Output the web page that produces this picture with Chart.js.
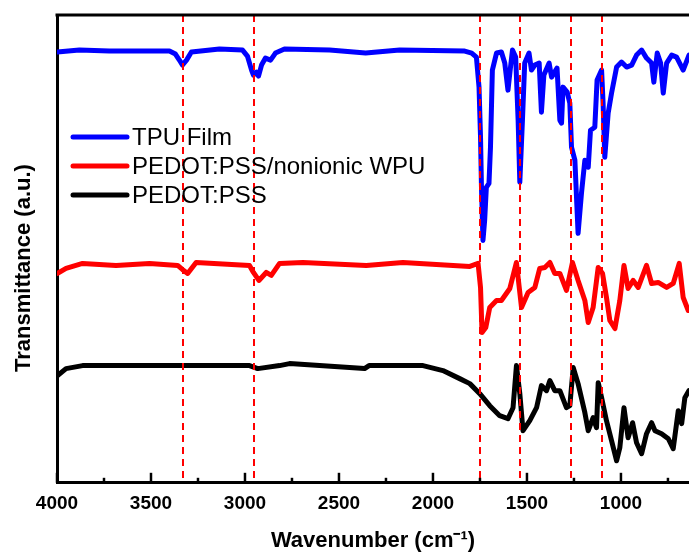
<!DOCTYPE html>
<html>
<head>
<meta charset="utf-8">
<script src="https://cdn.jsdelivr.net/npm/chart.js@4.4.1/dist/chart.umd.min.js"></script>
<style>
  html, body { margin: 0; padding: 0; background: #fff; overflow: hidden; }
  canvas { display: block; }
</style>
</head>
<body>
<canvas id="ftir-chart" width="689" height="554"></canvas>
<script>
// wavenumbers (cm-1) and transmittance (a.u., offset per curve)
const tpuX = [3998, 3881, 3722, 3562, 3402, 3370, 3349, 3333, 3311, 3285, 3136, 3013, 2987, 2965, 2955, 2939, 2928, 2912, 2891, 2864, 2838, 2790, 2550, 2358, 2177, 1831, 1794, 1769, 1755, 1747, 1742, 1734, 1725, 1716, 1702, 1694, 1684, 1662, 1636, 1618, 1601, 1591, 1577, 1560, 1547, 1538, 1524, 1512, 1489, 1476, 1458, 1435, 1423, 1410, 1382, 1369, 1340, 1325, 1316, 1308, 1286, 1272, 1263, 1245, 1228, 1210, 1192, 1174, 1162, 1139, 1127, 1103, 1095, 1086, 1068, 1050, 1023, 997, 970, 943, 917, 890, 864, 837, 825, 807, 789, 775, 757, 730, 704, 669, 638];
const tpuY = [430, 432, 431, 431, 431, 428, 422, 417, 422, 430, 433, 432, 426, 412, 407, 410, 406, 417, 424, 422, 429, 433, 432, 429, 432, 431, 429, 425, 395, 345, 295, 242, 262, 295, 299, 335, 412, 429, 430, 419, 392, 409, 432, 425, 362, 300, 362, 419, 429, 412, 417, 419, 370, 407, 419, 405, 414, 362, 359, 395, 390, 379, 335, 322, 249, 289, 322, 315, 352, 355, 402, 412, 379, 325, 369, 389, 415, 420, 415, 417, 427, 432, 424, 419, 400, 429, 419, 389, 419, 427, 425, 412, 427];

const wpuX = [3997, 3952, 3864, 3686, 3508, 3358, 3333, 3305, 3260, 2976, 2955, 2926, 2887, 2860, 2816, 2692, 2355, 2160, 1804, 1760, 1747, 1739, 1719, 1698, 1662, 1636, 1591, 1556, 1529, 1494, 1458, 1432, 1405, 1378, 1352, 1325, 1290, 1258, 1228, 1192, 1174, 1148, 1121, 1098, 1077, 1059, 1032, 1006, 984, 962, 935, 908, 864, 837, 802, 757, 722, 690, 669, 642];
const wpuY = [209, 214, 219, 217, 219, 217, 213, 209, 220, 217, 210, 202, 210, 207, 219, 220, 217, 220, 216, 219, 195, 150, 155, 175, 182, 182, 194, 220, 175, 190, 195, 214, 215, 220, 209, 209, 192, 220, 202, 182, 160, 175, 215, 209, 185, 162, 154, 182, 217, 194, 202, 195, 217, 199, 200, 195, 199, 219, 185, 172];

const pssX = [3997, 3952, 3864, 3686, 3331, 2976, 2932, 2816, 2763, 2364, 2340, 2053, 1947, 1858, 1804, 1751, 1698, 1645, 1601, 1574, 1556, 1538, 1521, 1485, 1449, 1423, 1396, 1378, 1352, 1325, 1290, 1272, 1254, 1228, 1192, 1174, 1148, 1130, 1121, 1103, 1077, 1050, 1023, 1006, 984, 962, 938, 917, 890, 864, 837, 819, 784, 748, 722, 695, 677, 660, 638];
const pssY = [107, 114, 117, 117, 117, 117, 114, 117, 119, 114, 117, 117, 112, 104, 99, 89, 77, 67, 64, 75, 117, 89, 52, 62, 75, 97, 92, 102, 92, 92, 75, 77, 115, 99, 70, 52, 65, 55, 100, 85, 62, 42, 22, 35, 75, 45, 60, 40, 29, 49, 60, 52, 49, 44, 34, 72, 59, 85, 92];

const seriesNames = ['TPU Film', 'PEDOT:PSS/nonionic WPU', 'PEDOT:PSS'];
const seriesColors = ['#0000ff', '#ff0000', '#000000'];
const peakLines = [3330, 2950, 1748, 1535, 1265, 1102];
const tickLabels = [4000, 3500, 3000, 2500, 2000, 1500, 1000];
const minorTicks = [3750, 3250, 2750, 2250, 1750, 1250, 750];

const FONT = '"Liberation Sans", Arial, sans-serif';

function toPoints(xs, ys) {
    return xs.map((x, i) => ({ x: x, y: ys[i] }));
}

// frame, inward ticks, dashed peak markers, legend and y title
const decorPlugin = {
    id: 'decor',
    afterDatasetsDraw(chart) {
        const ctx = chart.ctx;
        const area = chart.chartArea;
        const xs = chart.scales.x;
        ctx.save();

        ctx.strokeStyle = '#ff0000';
        ctx.lineWidth = 2;
        ctx.setLineDash([7, 5]);
        peakLines.forEach(v => {
            const px = Math.round(xs.getPixelForValue(v));
            ctx.beginPath();
            ctx.moveTo(px, area.top);
            ctx.lineTo(px, area.bottom);
            ctx.stroke();
        });
        ctx.setLineDash([]);

        ctx.strokeStyle = '#000';
        ctx.lineWidth = 3;
        ctx.beginPath();
        ctx.moveTo(area.left - 1.5, area.top);
        ctx.lineTo(chart.width, area.top);
        ctx.stroke();

        ctx.lineWidth = 2.5;
        tickLabels.forEach(v => {
            const px = xs.getPixelForValue(v);
            ctx.beginPath();
            ctx.moveTo(px, area.bottom);
            ctx.lineTo(px, area.bottom - 10);
            ctx.stroke();
        });
        minorTicks.forEach(v => {
            const px = xs.getPixelForValue(v);
            ctx.beginPath();
            ctx.moveTo(px, area.bottom);
            ctx.lineTo(px, area.bottom - 5);
            ctx.stroke();
        });

        // legend
        ctx.font = '24px ' + FONT;
        ctx.textBaseline = 'middle';
        ctx.lineCap = 'round';
        chart.data.datasets.forEach((ds, i) => {
            const y = area.top + 122 + i * 29;
            ctx.strokeStyle = ds.borderColor;
            ctx.lineWidth = 5;
            ctx.beginPath();
            ctx.moveTo(area.left + 16, y);
            ctx.lineTo(area.left + 70, y);
            ctx.stroke();
            ctx.fillStyle = '#000';
            ctx.fillText(ds.label, area.left + 75, y + 1);
        });

        // y title
        ctx.translate(24, 268);
        ctx.rotate(-Math.PI / 2);
        ctx.font = 'bold 22px ' + FONT;
        ctx.textAlign = 'center';
        ctx.fillStyle = '#000';
        ctx.fillText('Transmittance (a.u.)', 0, 0);
        ctx.restore();
    }
};

const ctx = document.getElementById('ftir-chart').getContext('2d');

const ftirChart = new Chart(ctx, {
    type: 'line',
    data: {
        datasets: [
            { label: seriesNames[0], data: toPoints(tpuX, tpuY), borderColor: seriesColors[0] },
            { label: seriesNames[1], data: toPoints(wpuX, wpuY), borderColor: seriesColors[1] },
            { label: seriesNames[2], data: toPoints(pssX, pssY), borderColor: seriesColors[2] }
        ]
    },
    options: {
        responsive: false,
        animation: false,
        datasets: {
            line: {
                borderWidth: 5,
                pointRadius: 0,
                tension: 0,
                fill: false,
                borderJoinStyle: 'round',
                borderCapStyle: 'round'
            }
        },
        layout: { padding: { left: 57, top: 15, right: 0, bottom: 0 } },
        plugins: {
            legend: { display: false },
            tooltip: { enabled: false }
        },
        scales: {
            x: {
                type: 'linear',
                reverse: true,
                min: 638,
                max: 4000,
                afterBuildTicks: axis => { axis.ticks = tickLabels.map(v => ({ value: v })); },
                grid: { display: false, drawTicks: false },
                border: { display: true, color: '#000', width: 3 },
                ticks: {
                    color: '#000',
                    padding: 10,
                    maxRotation: 0,
                    callback: v => String(v),
                    font: { family: FONT, size: 19, weight: 'bold' }
                },
                title: {
                    display: true,
                    text: 'Wavenumber (cm\u207B\u00B9)',
                    color: '#000',
                    padding: { top: 2, bottom: 0 },
                    font: { family: FONT, size: 22, weight: 'bold' }
                }
            },
            y: {
                min: 0,
                max: 467,
                grid: { display: false, drawTicks: false },
                border: { display: true, color: '#000', width: 3 },
                ticks: { display: false }
            }
        }
    },
    plugins: [decorPlugin]
});
</script>
</body>
</html>
